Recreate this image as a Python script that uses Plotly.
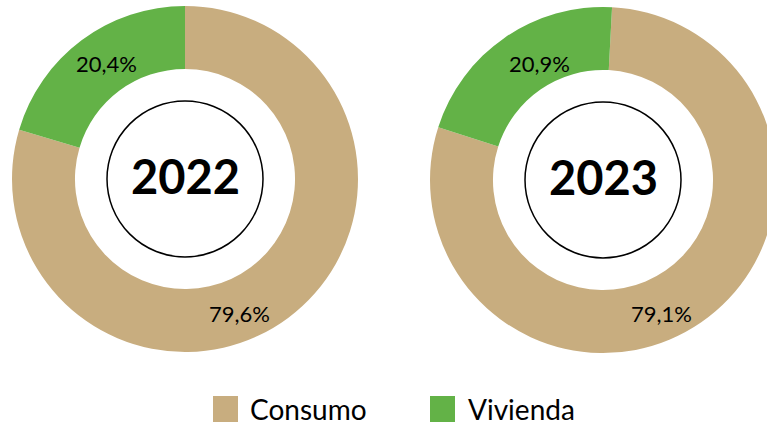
import plotly.graph_objects as go

# data
categories = ["Consumo", "Vivienda"]
years = ["2022", "2023"]
consumo = [79.6, 79.1]
vivienda = [20.4, 20.9]
colors = ["#C8AD7F", "#63B247"]

W, H = 790, 426  # a bit wider than the window so the right donut is clipped


def px_x(x):
    return x / W


def px_y(y):
    return 1 - y / H


def pct(v):
    return f"{v:.1f}".replace(".", ",") + "%"


# donut boxes (left, top, size) in pixels, rotation, label spots
donuts = [
    dict(left=12, top=6, size=346, rot=0, lab=[(239, 313), (106, 63)]),
    dict(left=430, top=7, size=346, rot=3, lab=[(661, 313), (539, 63)]),
]

fig = go.Figure()
annotations = []
shapes = []

for i, d in enumerate(donuts):
    vals = [consumo[i], vivienda[i]]
    fig.add_trace(go.Pie(
        labels=categories,
        values=vals,
        hole=0.636,
        sort=False,
        direction="clockwise",
        rotation=d["rot"],
        marker=dict(colors=colors, line=dict(width=0)),
        textinfo="none",
        hoverinfo="label+percent",
        showlegend=False,
        domain=dict(
            x=[px_x(d["left"]), px_x(d["left"] + d["size"])],
            y=[px_y(d["top"] + d["size"]), px_y(d["top"])],
        ),
    ))
    cx = d["left"] + d["size"] / 2
    cy = d["top"] + d["size"] / 2
    # inner circle with the year
    shapes.append(dict(
        type="circle", xref="paper", yref="paper",
        x0=px_x(cx - 78), x1=px_x(cx + 78),
        y0=px_y(cy + 78), y1=px_y(cy - 78),
        line=dict(color="black", width=1.5),
    ))
    annotations.append(dict(
        x=px_x(cx), y=px_y(cy - 3), xref="paper", yref="paper",
        text=f"<b>{years[i]}</b>", showarrow=False,
        font=dict(family="Lato", size=47, color="black"),
        xanchor="center", yanchor="middle",
    ))
    for (lx, ly), v in zip(d["lab"], vals):
        annotations.append(dict(
            x=px_x(lx), y=px_y(ly), xref="paper", yref="paper",
            text=pct(v), showarrow=False,
            font=dict(family="Lato", size=22, color="black"),
            xanchor="center", yanchor="middle",
        ))

# legend
legend_pos = [(213, 248), (430, 466)]
for name, col, (sx, tx) in zip(categories, colors, legend_pos):
    shapes.append(dict(
        type="rect", xref="paper", yref="paper",
        x0=px_x(sx), x1=px_x(sx + 25), y0=px_y(422), y1=px_y(396),
        fillcolor=col, line=dict(width=0),
    ))
    annotations.append(dict(
        x=px_x(tx), y=px_y(409), xref="paper", yref="paper",
        text=name, showarrow=False,
        font=dict(family="Lato", size=28, color="black"),
        xanchor="left", yanchor="middle",
    ))

fig.update_layout(
    width=W,
    height=H,
    margin=dict(l=0, r=0, t=0, b=0),
    paper_bgcolor="white",
    plot_bgcolor="white",
    shapes=shapes,
    annotations=annotations,
)

fig.write_html(
    "out.html",
    config={"displayModeBar": False},
    post_script="document.body.style.margin='0';document.body.style.overflow='hidden';",
)
